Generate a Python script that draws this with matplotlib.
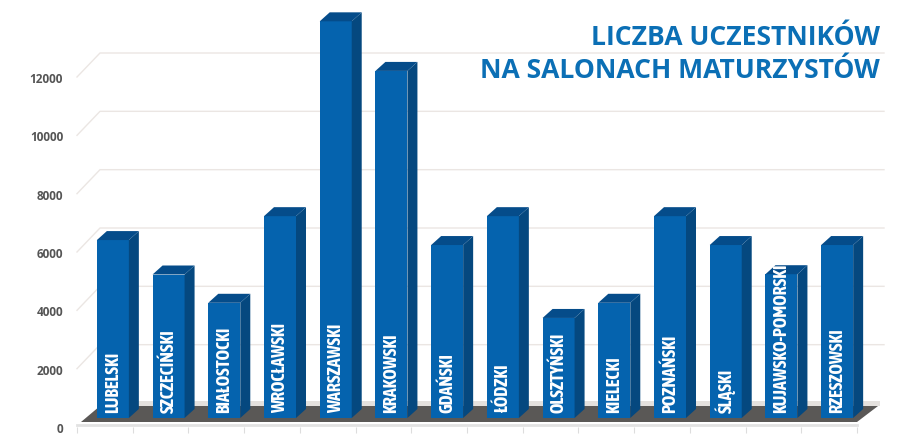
#!/usr/bin/env python3
"""Liczba uczestnikow na salonach maturzystow -- fake 3D bars."""

import matplotlib
matplotlib.use("Agg")
import matplotlib.pyplot as plt
import numpy as np

regions = ["LUBELSKI", "SZCZECIŃSKI", "BIAŁOSTOCKI", "WROCŁAWSKI", "WARSZAWSKI",
           "KRAKOWSKI", "GDAŃSKI", "ŁÓDZKI", "OLSZTYŃSKI", "KIELECKI",
           "POZNAŃSKI", "ŚLĄSKI", "KUJAWSKO-POMORSKI", "RZESZOWSKI"]
participants = [6100, 4920, 3950, 6920, 13600, 11900, 5930,
                6920, 3430, 3950, 6920, 5930, 4930, 5930]
y_ticks = [0, 2000, 4000, 6000, 8000, 10000, 12000]
title_lines = ["LICZBA UCZESTNIKÓW", "NA SALONACH MATURZYSTÓW"]

# Pixel geometry of the picture.
W, H = 921, 439
X0, X1 = 77, 857      # front edge of the floor
Y0 = 428              # value 0 on the front plane
PX_PER_CAT = (X1 - X0) / len(regions)
PX_PER_VAL = (427 - 77) / 12000

FRONT = "#0563ae"
SIDE = "#05487f"
TOP = "#054c8a"
GRID = "#ebe6e3"


def dx(px):
    return px / PX_PER_CAT


def dy(px):
    return px / PX_PER_VAL


fig = plt.figure(figsize=(W / 100, H / 100), dpi=100)
ax = fig.add_axes([X0 / W, (H - Y0) / H, (X1 - X0) / W, Y0 / H])
ax.set_xlim(-0.5, len(regions) - 0.5)
ax.set_ylim(0, Y0 / PX_PER_VAL)
for s in ax.spines.values():
    s.set_visible(False)

# Back wall grid and the slanted lines on the side wall.
back_x, back_y = dx(23), dy(24)
for v in y_ticks[1:]:
    ax.plot([-0.5, -0.5 + back_x, len(regions) - 0.5 + back_x + dx(4)],
            [v, v + back_y, v + back_y], color=GRID, lw=1.0, clip_on=False, zorder=1)

# Floor: light back band, then the dark slab with a pale front lip.
ax.fill([-0.5 + back_x, 13.5 + back_x, 13.5 + back_x, -0.5 + back_x],
        [dy(26), dy(26), dy(21), dy(21)], color="#e4e1de", zorder=1, clip_on=False, lw=0)
ax.fill([-0.5 + dx(4), 13.5, 13.5 + dx(21), -0.5 + back_x],
        [dy(5), dy(5), dy(21), dy(21)], color="#5a5856", zorder=2, clip_on=False, lw=0)
ax.plot([-0.5, 13.5], [dy(2), dy(2)], color="#e2e2e2", lw=2, zorder=2, clip_on=False)

# Bars.
bar_w = 32 / PX_PER_CAT
off_x, off_y = dx(8), dy(9)
depth_x, depth_y = dx(10), dy(9)
for i, (name, val) in enumerate(zip(regions, participants)):
    left = i - bar_w / 2 + off_x
    right = left + bar_w
    base = off_y
    top = val + off_y
    ax.bar(left, val, width=bar_w, bottom=base, align="edge", color=FRONT, zorder=3)
    ax.fill([right, right + depth_x, right + depth_x, right],
            [base, base + depth_y, top + depth_y, top], color=SIDE, zorder=3, clip_on=False, lw=0)
    ax.fill([left, right, right + depth_x, left + depth_x],
            [top, top, top + depth_y, top + depth_y], color=TOP, zorder=3, clip_on=False, lw=0)
    ax.text((left + right) / 2, base + dy(6), name, rotation=90, ha="center", va="bottom",
            color="white", fontsize=13.0, fontweight="bold",
            family=["Asap Condensed", "Open Sans"], zorder=4)

ax.set_yticks(y_ticks)
ax.set_yticklabels([str(v) for v in y_ticks], fontsize=8.5, fontweight="bold",
                   color="#555555", family="Open Sans")
ax.tick_params(axis="y", length=0, pad=10)
ax.set_xticks(np.arange(len(regions) + 1) - 0.5)
ax.set_xticklabels([])
ax.tick_params(axis="x", length=4, width=0.8, color="#dddddd")

for line, py in zip(title_lines, [38, 71]):
    fig.text(880 / W, 1 - py / H, line, ha="right", va="center", color="#0b6fb5",
             fontsize=19.1, fontweight="bold", family="Open Sans")

fig.savefig("out.png", dpi=100)
